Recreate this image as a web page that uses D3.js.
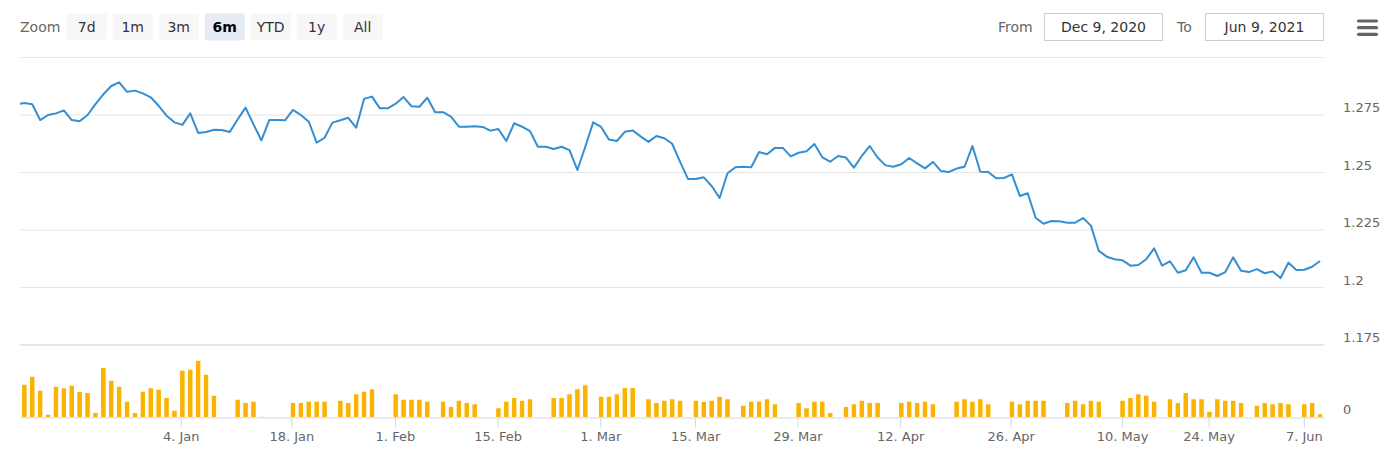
<!DOCTYPE html>
<html>
<head>
<meta charset="utf-8">
<script src="https://cdn.jsdelivr.net/npm/d3@7"></script>
<style>
body { margin: 0; background: #fff; }
svg { display: block; font-family: "DejaVu Sans", sans-serif; }
</style>
</head>
<body>
<div id="chart"></div>
<script>
// canvas and plot edges
var width = 1394;
var height = 457;
var left = 20;
var right = 1324;

// closing price for each trading point (ordinal axis, first one lies just left of the range)
var price = [
  1.2796, 1.2802, 1.2797, 1.2728, 1.2750, 1.2757, 1.2770, 1.2728, 1.2723, 1.2750,
  1.2797, 1.2840, 1.2876, 1.2892, 1.2851, 1.2856, 1.2844, 1.2827, 1.2790, 1.2747,
  1.2718, 1.2707, 1.2757, 1.2672, 1.2676, 1.2686, 1.2685, 1.2676, 1.2731, 1.2782,
  1.2709, 1.2640, 1.2728, 1.2728, 1.2727, 1.2772, 1.2750, 1.2721, 1.2630, 1.2651,
  1.2717, 1.2727, 1.2738, 1.2695, 1.2820, 1.2830, 1.2779, 1.2779, 1.2799, 1.2828,
  1.2788, 1.2786, 1.2825, 1.2762, 1.2762, 1.2743, 1.2699, 1.2699, 1.2701, 1.2698,
  1.2682, 1.2689, 1.2637, 1.2714, 1.2699, 1.2680, 1.2612, 1.2612, 1.2602, 1.2612,
  1.2597, 1.2511, 1.2612, 1.2718, 1.2698, 1.2643, 1.2637, 1.2677, 1.2683, 1.2657,
  1.2633, 1.2659, 1.2649, 1.2625, 1.2546, 1.2472, 1.2472, 1.2479, 1.2441, 1.2389,
  1.2497, 1.2523, 1.2525, 1.2523, 1.2589, 1.2579, 1.2607, 1.2607, 1.2570, 1.2586,
  1.2592, 1.2624, 1.2566, 1.2547, 1.2572, 1.2565, 1.2521, 1.2572, 1.2615, 1.2565,
  1.2531, 1.2525, 1.2536, 1.2563, 1.2540, 1.2518, 1.2546, 1.2507, 1.2502, 1.2517,
  1.2525, 1.2615, 1.2503, 1.2502, 1.2475, 1.2476, 1.2492, 1.2398, 1.2410, 1.2303,
  1.2277, 1.2289, 1.2288, 1.2282, 1.2282, 1.2302, 1.2269, 1.2159, 1.2134, 1.2123,
  1.2118, 1.2095, 1.2098, 1.2123, 1.2170, 1.2095, 1.2114, 1.2064, 1.2075, 1.2131,
  1.2064, 1.2064, 1.2050, 1.2067, 1.2131, 1.2073, 1.2067, 1.2080, 1.2062, 1.2070,
  1.2041, 1.2108, 1.2076, 1.2077, 1.2090, 1.2115
];

// volume for the same points (0 = no bar)
var volume = [
  0, 33.3, 41.3, 27.3, 3.3, 31.3, 29.7, 32.3, 26, 25,
  5, 50, 37.3, 31.3, 16.3, 5, 26.3, 29.7, 28.3, 20,
  7.3, 47.3, 48.3, 57.3, 43.3, 22.3, 0, 0, 18.3, 15,
  16.3, 1.3, 0, 0, 0, 15, 15, 16.3, 16.3, 16.3,
  0, 17.3, 15, 23.7, 26.3, 28.7, 0, 0, 23.7, 18.3,
  18.3, 18.3, 16.3, 0, 16.3, 11, 17.3, 15, 13.7, 0,
  0, 9.7, 16.3, 20, 17.3, 18.7, 0, 0, 20, 20,
  23.7, 28.7, 32.7, 0, 21.3, 21.3, 23.7, 30, 30, 0,
  18.7, 15, 17.3, 18.7, 17.3, 0, 17.3, 16.3, 17.3, 21.3,
  18.7, 0, 12.3, 16.3, 16.3, 18.7, 13.7, 0, 0, 15,
  9.7, 16.3, 16.3, 5, 0, 11, 13.7, 17.3, 15, 15,
  0, 0, 15, 16.3, 15, 16.3, 13.7, 0, 0, 16.3,
  18.7, 16.3, 18.7, 13.7, 0, 0, 16.3, 13.7, 17.3, 17.3,
  17.3, 0, 0, 15, 17.3, 13.7, 17.3, 16.3, 0, 0,
  17.3, 20, 23.7, 22.3, 16.3, 0, 18.7, 15, 25, 18.7,
  18.7, 6.3, 18.7, 17.3, 17.3, 15, 0, 12.3, 15, 13.7,
  15, 13.7, 0, 13.7, 15, 3.7
];

// date ticks, placed on the ordinal point index
var tickIndex = [20.8, 34.8, 47.9, 60.9, 73.9, 85.9, 98.85, 111.85, 125.85, 139.95, 150.9, 162.95];
var tickLabels = ["4. Jan", "18. Jan", "1. Feb", "15. Feb", "1. Mar", "15. Mar", "29. Mar",
  "12. Apr", "26. Apr", "10. May", "24. May", "7. Jun"];
var priceTicks = [1.175, 1.2, 1.225, 1.25, 1.275, 1.3];
var volumeTicks = [0];

// range selector
var zoomButtons = ["7d", "1m", "3m", "6m", "YTD", "1y", "All"];
var selectedButton = "6m";
var fromDate = "Dec 9, 2020";
var toDate = "Jun 9, 2021";

var svg = d3.select("#chart").append("svg")
  .attr("width", width)
  .attr("height", height);

var x = d3.scaleLinear().domain([0.45, 165.5]).range([left, right]);
var yPrice = d3.scaleLinear().domain([1.175, 1.3]).range([345, 57.5]);
var yVol = d3.scaleLinear().domain([0, 72.5]).range([417.5, 345]);

svg.append("clipPath").attr("id", "plotClip")
  .append("rect").attr("x", left).attr("y", 40).attr("width", right - left).attr("height", 380);

// price gridlines + labels on the right
svg.append("g").selectAll("line").data(priceTicks).join("line")
  .attr("x1", left).attr("x2", right)
  .attr("y1", d => yPrice(d)).attr("y2", d => yPrice(d))
  .attr("stroke", "#e6e6e6")
  .attr("stroke-width", d => d == 1.175 ? 2 : 1);

svg.append("g").selectAll("text").data(priceTicks.filter(d => d != 1.3)).join("text")
  .attr("x", 1343)
  .attr("y", d => yPrice(d) - 3)
  .attr("fill", "#666")
  .attr("font-size", 13)
  .text(d => d3.format("")(d));

svg.append("g").selectAll("text").data(volumeTicks).join("text")
  .attr("x", 1343)
  .attr("y", d => yVol(d) - 3.5)
  .attr("fill", "#666")
  .attr("font-size", 13)
  .text(d => d);

// volume columns
svg.append("g").attr("clip-path", "url(#plotClip)")
  .selectAll("rect")
  .data(volume.map((v, i) => ({ i: i, v: v })).filter(d => d.v > 0))
  .join("rect")
  .attr("x", d => x(d.i) - 2.75)
  .attr("width", 5.5)
  .attr("y", d => yVol(d.v))
  .attr("height", d => yVol(0) - yVol(d.v))
  .attr("fill", "#f9b300")
  .attr("stroke", "#fff")
  .attr("stroke-width", 1);

// x axis
var xAxis = d3.axisBottom(x)
  .tickValues(tickIndex)
  .tickFormat((d, i) => tickLabels[i])
  .tickSize(10)
  .tickSizeOuter(0)
  .tickPadding(4.5);

var gx = svg.append("g").attr("transform", "translate(0,417.5)").call(xAxis);
gx.select(".domain").attr("stroke", "#ccd6eb");
gx.selectAll(".tick line").attr("stroke", "#ccd6eb");
gx.selectAll(".tick text")
  .attr("fill", "#666")
  .attr("font-size", 13)
  .attr("font-family", "DejaVu Sans, sans-serif");

// price line
var line = d3.line()
  .x((d, i) => x(i))
  .y(d => yPrice(d));

svg.append("path")
  .datum(price)
  .attr("clip-path", "url(#plotClip)")
  .attr("d", line)
  .attr("fill", "none")
  .attr("stroke", "#338fd1")
  .attr("stroke-width", 2)
  .attr("stroke-linejoin", "round");

// ---- range selector ----
svg.append("text").attr("x", 20).attr("y", 32)
  .attr("font-size", 14).attr("fill", "#666").text("Zoom");

var btn = svg.append("g").selectAll("g").data(zoomButtons).join("g")
  .attr("transform", (d, i) => "translate(" + (66.7 + i * 46) + ",13.5)");

btn.append("rect")
  .attr("width", 40).attr("height", 27).attr("rx", 2)
  .attr("fill", d => d == selectedButton ? "#e6ebf5" : "#f7f7f7");

btn.append("text")
  .attr("x", 20).attr("y", 18.5)
  .attr("text-anchor", "middle")
  .attr("font-size", 14)
  .attr("font-weight", d => d == selectedButton ? "bold" : "normal")
  .attr("fill", d => d == selectedButton ? "#000" : "#333")
  .text(d => d);

var inputs = [{ label: "From", value: fromDate, lx: 998, bx: 1044.5 },
              { label: "To", value: toDate, lx: 1177, bx: 1205.5 }];

inputs.forEach(function (inp) {
  svg.append("text").attr("x", inp.lx).attr("y", 32)
    .attr("font-size", 14).attr("fill", "#666").text(inp.label);
  svg.append("rect").attr("x", inp.bx).attr("y", 13.5)
    .attr("width", 118).attr("height", 27)
    .attr("fill", "#fff").attr("stroke", "#ccc");
  svg.append("text").attr("x", inp.bx + 59).attr("y", 32)
    .attr("text-anchor", "middle")
    .attr("font-size", 14).attr("fill", "#333").text(inp.value);
});

// export menu icon
svg.append("g").selectAll("line").data([21, 27.7, 34.3]).join("line")
  .attr("x1", 1358.5).attr("x2", 1376.5)
  .attr("y1", d => d).attr("y2", d => d)
  .attr("stroke", "#666").attr("stroke-width", 3.2)
  .attr("stroke-linecap", "round");
</script>
</body>
</html>
